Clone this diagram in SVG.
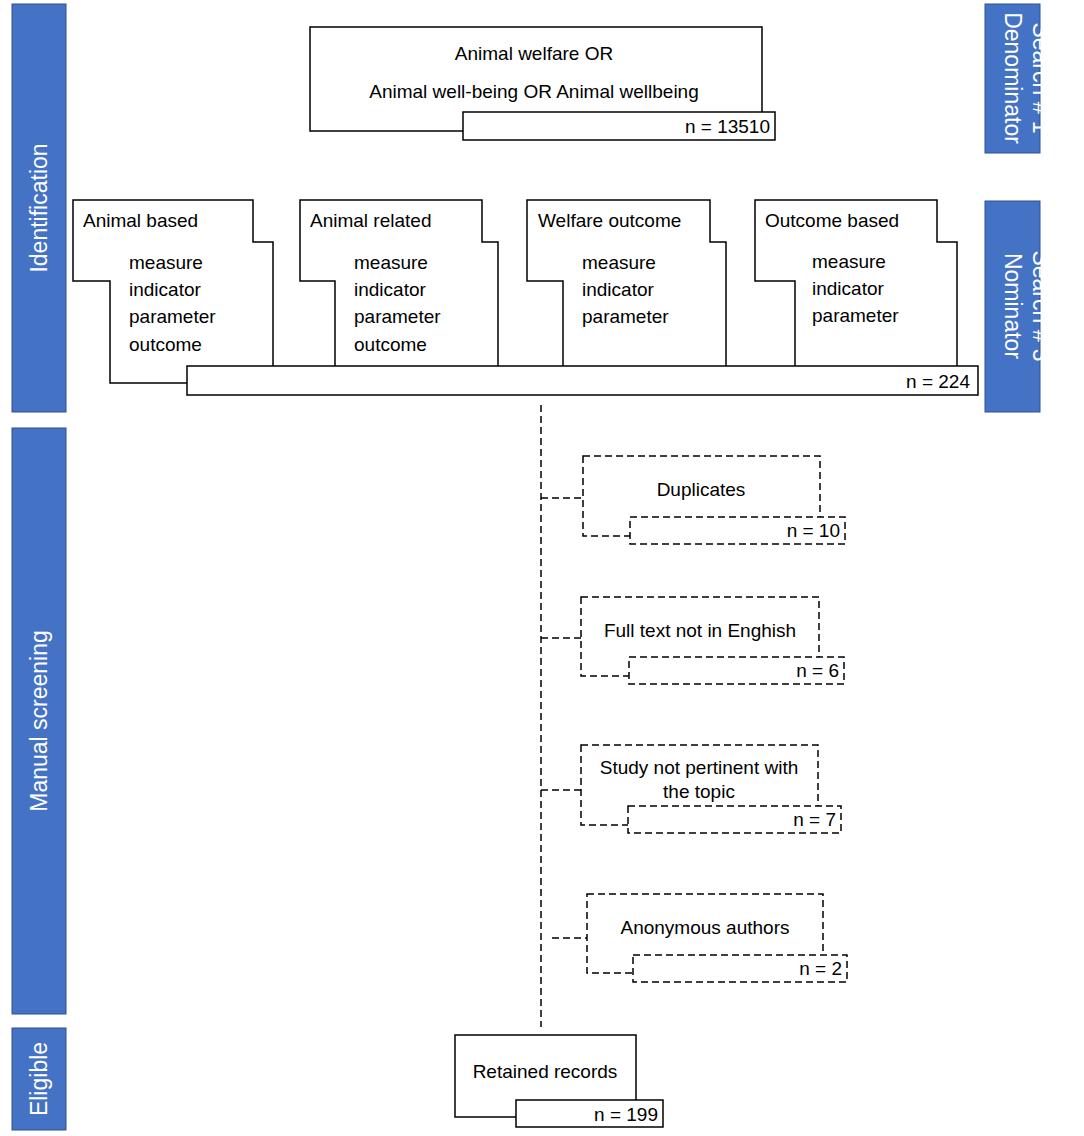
<svg xmlns="http://www.w3.org/2000/svg" width="1084" height="1136" viewBox="0 0 1084 1136">
<style>
.b{fill:#fff;stroke:#000;stroke-width:1.5}
.d{fill:#fff;stroke:#000;stroke-width:1.5;stroke-dasharray:7,4}
.dl{fill:none;stroke:#000;stroke-width:1.5;stroke-dasharray:7,4}
.side{fill:#4472C4;stroke:#2F528F;stroke-width:1}
text{font-family:"Liberation Sans",Arial,sans-serif;font-size:19px;fill:#000}
.w{fill:#fff;font-size:23px}
.e{text-anchor:end}
.m{text-anchor:middle}
</style>
<rect width="1084" height="1136" fill="#fff"/>
<g id="labels">
<rect class="side" x="12" y="4" width="54" height="408"/>
<text class="w m" transform="translate(47,208) rotate(-90)">Identification</text>
<rect class="side" x="12" y="428" width="54" height="586"/>
<text class="w m" transform="translate(47,721) rotate(-90)">Manual screening</text>
<rect class="side" x="12" y="1028" width="54" height="102"/>
<text class="w m" transform="translate(47,1079) rotate(-90)">Eligible</text>
<rect class="side" x="985" y="4" width="55" height="149"/>
<text class="w m" transform="translate(1033,78) rotate(90)">Search # 1</text>
<text class="w m" transform="translate(1005,78) rotate(90)">Denominator</text>
<rect class="side" x="985" y="201" width="55" height="211"/>
<text class="w m" transform="translate(1033,306) rotate(90)">Search # 3</text>
<text class="w m" transform="translate(1005,306) rotate(90)">Nominator</text>
</g>
<g id="connectors">
<path class="dl" d="M541 405V1027M541 498H583M541 638H581M541 790H581M552 938H587"/>
</g>
<g id="search1">
<rect class="b" x="310" y="27" width="452" height="104"/>
<text class="m" x="534" y="60">Animal welfare OR</text>
<text class="m" x="534" y="98">Animal well-being OR Animal wellbeing</text>
<rect class="b" x="463" y="112" width="312" height="28"/>
<text class="e" x="770" y="133">n = 13510</text>
</g>
<g id="search3">
<path class="b" d="M187 383H110V281H73V200H253V242H273V366"/>
<text x="83" y="227">Animal based</text>
<text x="129" y="269">measure</text><text x="129" y="296">indicator</text><text x="129" y="323">parameter</text><text x="129" y="351">outcome</text>
<path class="b" d="M335 366V281H300V200H482V242H498V366"/>
<text x="310" y="227">Animal related</text>
<text x="354" y="269">measure</text><text x="354" y="296">indicator</text><text x="354" y="323">parameter</text><text x="354" y="351">outcome</text>
<path class="b" d="M563 366V281H527V200H710V242H726V366"/>
<text x="538" y="227">Welfare outcome</text>
<text x="582" y="269">measure</text><text x="582" y="296">indicator</text><text x="582" y="323">parameter</text>
<path class="b" d="M795 366V281H755V200H937V242H957V366"/>
<text x="765" y="227">Outcome based</text>
<text x="812" y="268">measure</text><text x="812" y="295">indicator</text><text x="812" y="322">parameter</text>
<rect class="b" x="187" y="366" width="791" height="29"/>
<text class="e" x="970" y="388">n = 224</text>
</g>
<g id="duplicates">
<rect class="d" x="583" y="456" width="237" height="80"/>
<text class="m" x="701" y="496">Duplicates</text>
<rect class="d" x="630" y="517" width="215" height="27"/>
<text class="e" x="840" y="537">n = 10</text>
</g>
<g id="english">
<rect class="d" x="581" y="597" width="238" height="79"/>
<text class="m" x="700" y="637">Full text not in Enghish</text>
<rect class="d" x="629" y="657" width="215" height="27"/>
<text class="e" x="839" y="677">n = 6</text>
</g>
<g id="pertinent">
<rect class="d" x="581" y="745" width="237" height="80"/>
<text class="m" x="699" y="774">Study not pertinent with</text>
<text class="m" x="699" y="798">the topic</text>
<rect class="d" x="628" y="806" width="213" height="27"/>
<text class="e" x="836" y="826">n = 7</text>
</g>
<g id="anonymous">
<rect class="d" x="587" y="894" width="236" height="79"/>
<text class="m" x="705" y="934">Anonymous authors</text>
<rect class="d" x="633" y="955" width="214" height="27"/>
<text class="e" x="842" y="975">n = 2</text>
</g>
<g id="retained">
<rect class="b" x="455" y="1035" width="181" height="82"/>
<text class="m" x="545" y="1078">Retained records</text>
<rect class="b" x="516" y="1100" width="147" height="27"/>
<text class="e" x="658" y="1121">n = 199</text>
</g>
</svg>
